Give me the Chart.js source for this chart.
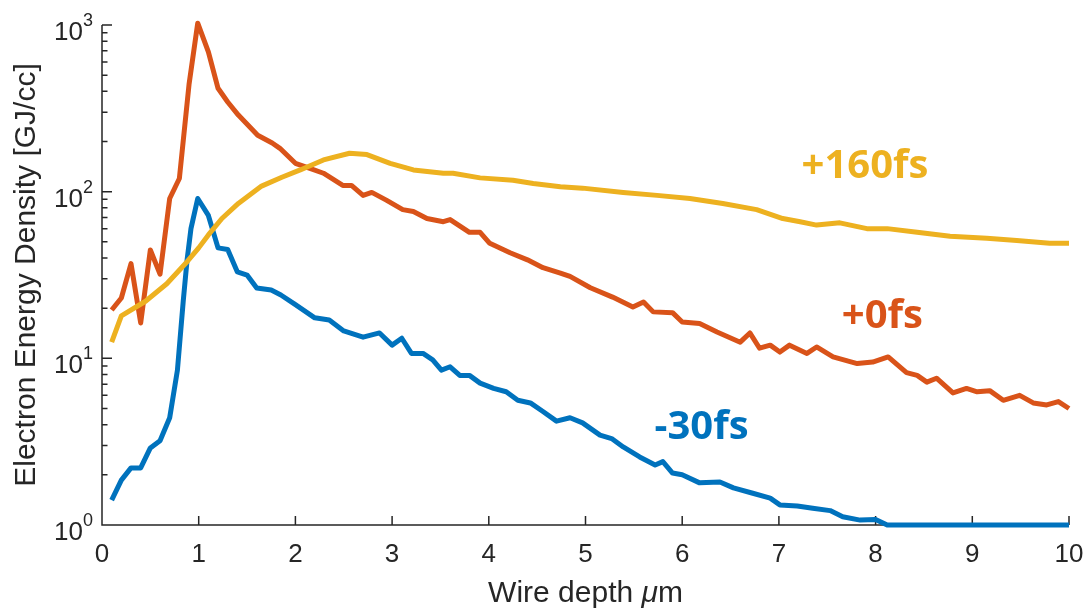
<!DOCTYPE html>
<html>
<head>
<meta charset="utf-8">
<script src="https://cdn.jsdelivr.net/npm/chart.js@4/dist/chart.umd.min.js"></script>
<style>
  html, body { margin: 0; padding: 0; background: #ffffff; }
  #wrap { width: 1092px; height: 615px; position: relative; }
</style>
</head>
<body>
<div id="wrap"><canvas id="c"></canvas></div>
<script>
// ---- data ----
const seriesNames = ['-30fs', '+0fs', '+160fs'];

const xNeg30 = [0.1,0.2,0.3,0.4,0.5,0.6,0.7,0.78,0.84,0.88,0.92,0.99,1.1,1.2,1.3,1.4,1.5,1.6,1.75,1.85,2.0,2.2,2.35,2.5,2.7,2.87,3.0,3.1,3.2,3.32,3.42,3.51,3.6,3.7,3.8,3.91,4.05,4.18,4.3,4.43,4.56,4.7,4.84,4.97,5.15,5.27,5.39,5.56,5.72,5.8,5.9,6.0,6.18,6.39,6.53,6.73,6.91,7.01,7.19,7.35,7.53,7.66,7.84,8.0,8.12,8.5,9.0,9.5,10.0];
const yNeg30 = [1.41,1.86,2.2,2.2,2.9,3.2,4.4,8.5,22,39,60,91,72,46,45,33,31.6,26.4,25.7,24,21,17.5,17,14.6,13.4,14.2,12,13.2,10.7,10.7,9.8,8.5,8.9,7.9,7.9,7.1,6.6,6.3,5.6,5.4,4.8,4.2,4.4,4.1,3.46,3.3,2.94,2.56,2.29,2.4,2.05,2.0,1.79,1.81,1.67,1.55,1.45,1.32,1.3,1.26,1.22,1.12,1.07,1.08,1.0,1.0,1.0,1.0,1.0];

const xZero = [0.1,0.2,0.3,0.4,0.5,0.6,0.7,0.8,0.9,0.99,1.1,1.2,1.3,1.41,1.61,1.76,1.84,2.0,2.15,2.29,2.49,2.58,2.7,2.79,2.94,3.11,3.22,3.36,3.53,3.6,3.8,3.91,4.01,4.22,4.4,4.56,4.74,4.84,5.05,5.28,5.49,5.6,5.7,5.9,6.0,6.18,6.36,6.6,6.7,6.8,6.91,7.01,7.11,7.29,7.39,7.56,7.81,7.97,8.13,8.32,8.43,8.53,8.63,8.8,8.94,9.05,9.18,9.32,9.49,9.63,9.77,9.89,10.0];
const yZero = [19.5,23,37,16.3,44.7,32,91,120,440,1025,690,417,345,288,218,196,182,148,138,129,109,109,95,99,89,78,76,69,66,68,57,57,49,43,39,35,32.5,31,26.5,23.3,20.3,21.8,19,18.8,16.5,16.2,14.4,12.5,14.2,11.5,12,10.9,12,10.7,11.7,10.2,9.3,9.5,10.2,8.2,7.9,7.2,7.6,6.2,6.6,6.3,6.4,5.6,6.0,5.4,5.25,5.5,5.0];

const x160 = [0.1,0.2,0.45,0.67,0.88,1.0,1.1,1.24,1.41,1.65,1.86,2.05,2.29,2.56,2.74,2.98,3.22,3.53,3.63,3.91,4.25,4.46,4.74,4.97,5.39,5.74,6.08,6.42,6.77,7.04,7.22,7.39,7.63,7.91,8.12,8.43,8.77,9.15,9.46,9.8,10.0];
const y160 = [12.5,18,22,28,38,46,55,69,85,108,122,135,155,170,167,148,135,129,129,121,117,112,107,105,99,95,91,85,78,69,66,63,65,60,60,57,54,52.5,51,49,49];

const xTickValues = [0,1,2,3,4,5,6,7,8,9,10];
const yTickExponents = [0,1,2,3];
const labelX = [6.20, 8.07, 7.89];
const labelY = [3.82, 17.7, 140.6];

const xTitle = ['Wire depth ', '\u03BC', 'm'];
const yTitle = 'Electron Energy Density [GJ/cc]';
// ------------------------------------------------

const colors = ['#0072BD', '#D95319', '#EDB120'];
const toPts = (xs, ys) => xs.map((v, i) => ({x: v, y: ys[i]}));
const AXIS = '#262626';
const SANS = '"Liberation Sans", Arial, Helvetica, sans-serif';

const axesPlugin = {
  id: 'matlabAxes',
  beforeDatasetsDraw(chart) {
    const {ctx, chartArea: a, scales: {x, y}} = chart;
    ctx.save();
    ctx.strokeStyle = AXIS;
    ctx.lineWidth = 1.5;
    ctx.beginPath();
    ctx.moveTo(a.left, a.top);
    ctx.lineTo(a.left, a.bottom);
    ctx.lineTo(a.right, a.bottom);
    // x ticks (inward)
    xTickValues.forEach(v => {
      const px = x.getPixelForValue(v);
      ctx.moveTo(px, a.bottom);
      ctx.lineTo(px, a.bottom - 9);
    });
    // y ticks major + minor (inward)
    const eMax = yTickExponents[yTickExponents.length - 1];
    for (let e = yTickExponents[0]; e <= eMax; e++) {
      for (let m = 1; m <= 9; m++) {
        if (e === eMax && m > 1) break;
        const py = y.getPixelForValue(m * Math.pow(10, e));
        ctx.moveTo(a.left, py);
        ctx.lineTo(a.left + (m === 1 ? 10 : 5.5), py);
      }
    }
    ctx.stroke();

    // y tick labels with superscript exponents
    ctx.fillStyle = AXIS;
    ctx.textAlign = 'right';
    ctx.textBaseline = 'alphabetic';
    yTickExponents.forEach(e => {
      const py = y.getPixelForValue(Math.pow(10, e));
      const right = a.left - 9;
      ctx.font = '18px ' + SANS;
      const supW = ctx.measureText(String(e)).width;
      ctx.fillText(String(e), right, py + 1);
      ctx.font = '26px ' + SANS;
      ctx.fillText('10', right - supW, py + 15);
    });

    // x axis title with italic mu
    ctx.textAlign = 'left';
    const fonts = ['30px ' + SANS, 'italic 30px ' + SANS, '30px ' + SANS];
    let total = 0;
    const widths = xTitle.map((s, i) => { ctx.font = fonts[i]; const w = ctx.measureText(s).width; total += w; return w; });
    let cx = (a.left + a.right) / 2 - total / 2;
    xTitle.forEach((s, i) => { ctx.font = fonts[i]; ctx.fillText(s, cx, a.bottom + 77); cx += widths[i]; });
    ctx.restore();
  },
  afterDatasetsDraw(chart) {
    const {ctx, scales: {x, y}} = chart;
    ctx.save();
    ctx.font = 'bold 40px "Open Sans", Lato, sans-serif';
    ctx.textAlign = 'center';
    ctx.textBaseline = 'middle';
    seriesNames.forEach((n, i) => {
      ctx.fillStyle = colors[i];
      ctx.fillText(n, x.getPixelForValue(labelX[i]), y.getPixelForValue(labelY[i]));
    });
    ctx.restore();
  }
};

const mk = (i, xs, ys) => ({
  label: seriesNames[i],
  data: toPts(xs, ys),
  borderColor: colors[i],
  backgroundColor: colors[i],
  borderWidth: 5,
  pointRadius: 0,
  tension: 0,
  fill: false,
  clip: false,
  borderJoinStyle: 'round',
  borderCapStyle: 'butt'
});

new Chart(document.getElementById('c'), {
  type: 'line',
  data: {
    datasets: [
      mk(2, x160, y160),
      mk(1, xZero, yZero),
      mk(0, xNeg30, yNeg30)
    ]
  },
  options: {
    responsive: true,
    maintainAspectRatio: false,
    animation: false,
    layout: { padding: { top: 25, right: 23, bottom: 0, left: 0 } },
    plugins: { legend: { display: false }, tooltip: { enabled: false } },
    scales: {
      x: {
        type: 'linear',
        min: 0, max: 10,
        grid: { display: false, drawTicks: true, tickLength: 14 },
        border: { display: false },
        ticks: {
          stepSize: 1,
          padding: 0,
          color: AXIS,
          font: { family: SANS, size: 26 },
          maxRotation: 0,
          autoSkip: false
        },
        afterFit(s) { s.height = 90; }
      },
      y: {
        type: 'logarithmic',
        min: 1, max: 1000,
        grid: { display: false, drawTicks: false },
        border: { display: false },
        ticks: { display: false },
        title: {
          display: true,
          text: yTitle,
          color: AXIS,
          font: { family: SANS, size: 30 },
          padding: { top: 9, bottom: 0 }
        },
        afterFit(s) { s.width = 102; }
      }
    }
  },
  plugins: [axesPlugin]
});
</script>
</body>
</html>
